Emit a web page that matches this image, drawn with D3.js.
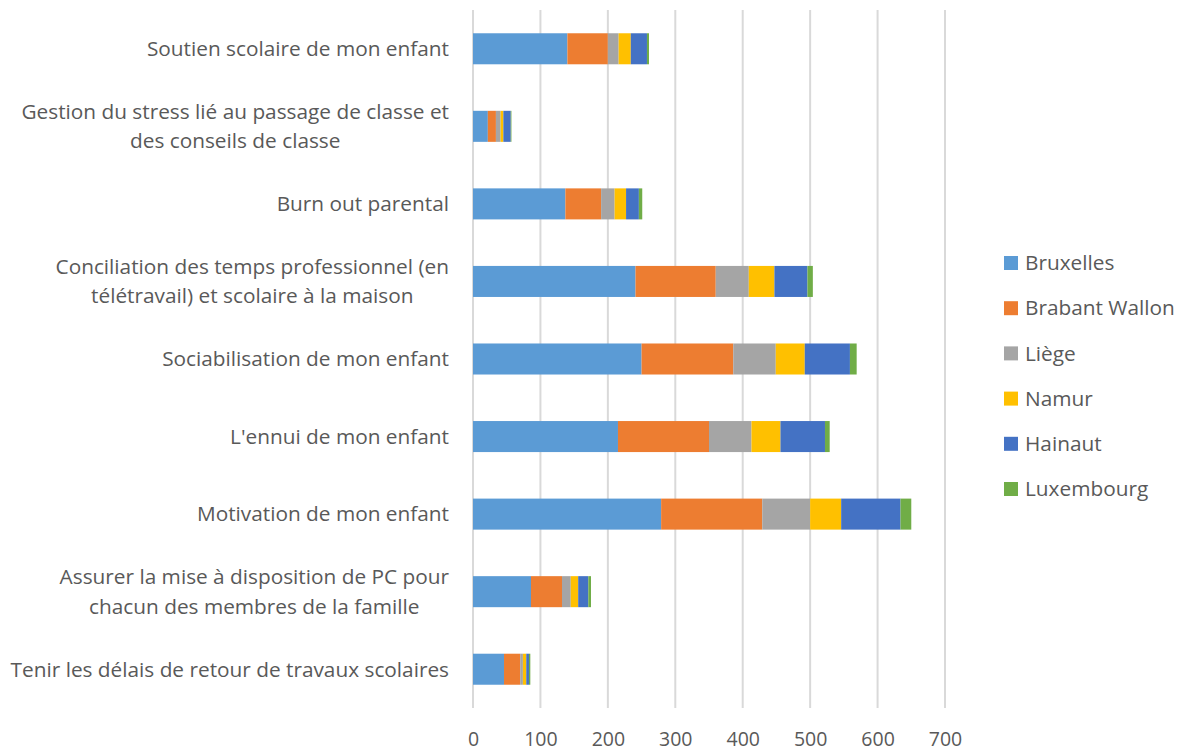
<!DOCTYPE html>
<html>
<head>
<meta charset="utf-8">
<script src="https://cdn.jsdelivr.net/npm/d3@7"></script>
<style>
  body { margin: 0; background: #fff; }
  text { font-family: "Open Sans", "Liberation Sans", sans-serif; fill: #595959; }
</style>
</head>
<body>
<script>
// Categories, top to bottom
var categories = [
  "Soutien scolaire de mon enfant",
  "Gestion du stress lié au passage de classe et|des conseils de classe",
  "Burn out parental",
  "Conciliation des temps professionnel (en|télétravail) et scolaire à la maison",
  "Sociabilisation de mon enfant",
  "L'ennui de mon enfant",
  "Motivation de mon enfant",
  "Assurer la mise à disposition de PC pour|chacun des membres de la famille",
  "Tenir les délais de retour de travaux scolaires"
];

var regions = ["Bruxelles", "Brabant Wallon", "Liège", "Namur", "Hainaut", "Luxembourg"];
var colors = ["#5b9bd5", "#ed7d31", "#a5a5a5", "#ffc000", "#4472c4", "#70ad47"];

// one array per region, same order as categories
var bruxelles     = [140, 22, 137, 241, 250, 215, 279, 86, 46];
var brabantWallon = [ 60, 12,  53, 119, 136, 135, 150, 46, 24];
var liege         = [ 16,  7,  20,  49,  63,  63,  71, 13,  4];
var namur         = [ 18,  4,  17,  38,  43,  43,  46, 11,  5];
var hainaut       = [ 24, 11,  19,  49,  67,  66,  88, 15,  4];
var luxembourg    = [  3,  1,   5,   8,  10,   7,  16,  4,  2];

var xTicks = [0, 100, 200, 300, 400, 500, 600, 700];

var seriesValues = [bruxelles, brabantWallon, liege, namur, hainaut, luxembourg];

var table = categories.map(function (c, i) {
  var row = { cat: c };
  regions.forEach(function (r, j) { row[r] = seriesValues[j][i]; });
  return row;
});

var width = 1183, height = 751;
var plot = { left: 473, right: 945, top: 10, bottom: 708 };

var svg = d3.select("body").append("svg")
  .attr("width", width)
  .attr("height", height);

var x = d3.scaleLinear().domain([0, 700]).range([plot.left, plot.right]);
var y = d3.scaleBand().domain(categories).range([plot.top, plot.bottom]).paddingInner(0.6).paddingOuter(0.3);

// gridlines
svg.append("g").selectAll("line")
  .data(xTicks)
  .enter().append("line")
  .attr("x1", function (d) { return x(d); })
  .attr("x2", function (d) { return x(d); })
  .attr("y1", plot.top)
  .attr("y2", plot.bottom)
  .attr("stroke", "#d9d9d9")
  .attr("stroke-width", 2);

// stacked bars
var stack = d3.stack().keys(regions);
var layers = stack(table);

svg.append("g").selectAll("g")
  .data(layers)
  .enter().append("g")
  .attr("fill", function (d, i) { return colors[i]; })
  .selectAll("rect")
  .data(function (d) { return d; })
  .enter().append("rect")
  .attr("x", function (d) { return x(d[0]); })
  .attr("width", function (d) { return x(d[1]) - x(d[0]); })
  .attr("y", function (d) { return y(d.data.cat); })
  .attr("height", y.bandwidth());

// x tick labels
var xAxis = d3.axisBottom(x).tickValues(xTicks).tickSize(0).tickPadding(24);
var gx = svg.append("g")
  .attr("transform", "translate(0," + plot.bottom + ")")
  .call(xAxis);
gx.select(".domain").remove();
gx.selectAll("text")
  .style("font-family", "'Open Sans', sans-serif")
  .attr("font-size", 19.5)
  .attr("fill", "#595959");

// category labels (multi-line split at '|', lines centred in a right-aligned block)
var labelRight = 449;
var labels = svg.append("g").selectAll("text")
  .data(categories)
  .enter().append("text")
  .attr("font-size", 20.8)
  .attr("text-anchor", "middle");

labels.each(function (d) {
  var lines = d.split("|");
  var el = d3.select(this);
  var lh = 29.5;
  var cy = y(d) + y.bandwidth() / 2;
  var spans = lines.map(function (line, k) {
    return el.append("tspan")
      .attr("dy", "0.35em")
      .attr("y", cy + (k - (lines.length - 1) / 2) * lh)
      .text(line);
  });
  var maxW = d3.max(spans, function (s) { return s.node().getComputedTextLength(); });
  spans.forEach(function (s) { s.attr("x", labelRight - maxW / 2); });
});

// legend
var legend = svg.append("g").selectAll("g")
  .data(regions)
  .enter().append("g")
  .attr("transform", function (d, i) { return "translate(1004," + (263 + i * 45.2) + ")"; });

legend.append("rect")
  .attr("x", 0).attr("y", -7)
  .attr("width", 14).attr("height", 14)
  .attr("fill", function (d, i) { return colors[i]; });

legend.append("text")
  .attr("x", 21)
  .attr("dy", "0.35em")
  .attr("font-size", 20.8)
  .text(function (d) { return d; });
</script>
</body>
</html>
